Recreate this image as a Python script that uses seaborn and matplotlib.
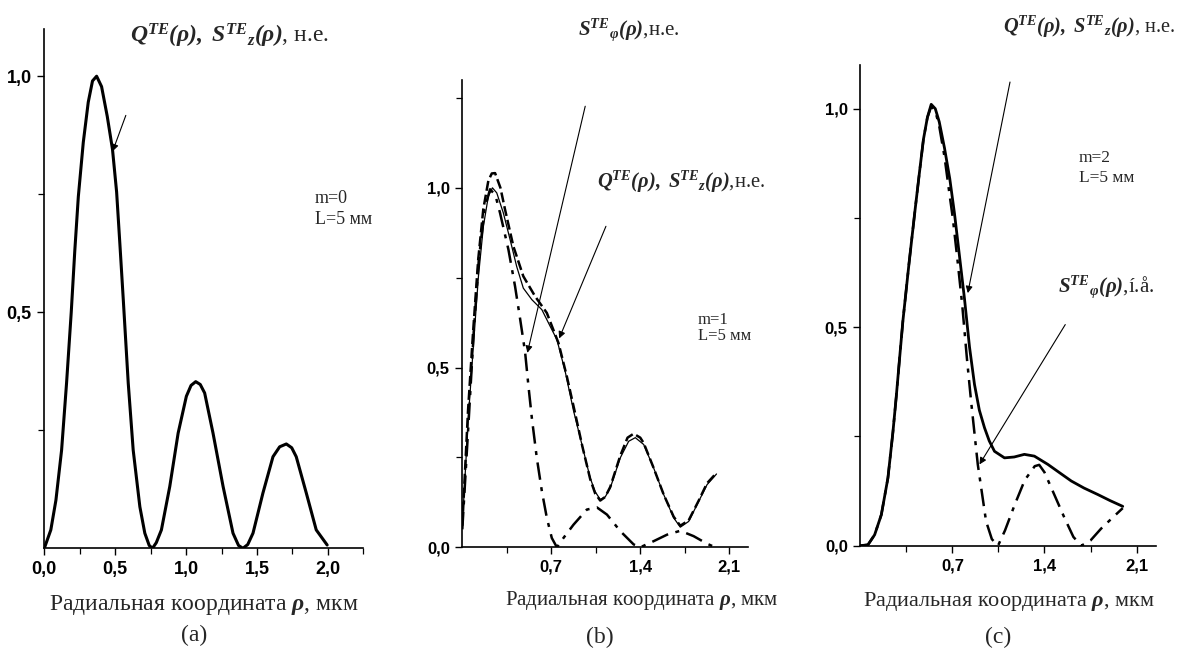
import matplotlib
matplotlib.use("Agg")
import matplotlib.pyplot as plt
import seaborn as sns

# ---------------- data ----------------
# panel (a): m=0
a_rho = [0.00, 0.046, 0.082, 0.122, 0.157, 0.19, 0.215, 0.24, 0.275, 0.31, 0.34, 0.369, 0.404,
         0.444, 0.481, 0.51, 0.533, 0.557, 0.592, 0.627, 0.674, 0.709, 0.74, 0.763, 0.79, 0.826,
         0.885, 0.944, 1.002, 1.035, 1.068, 1.10, 1.131, 1.19, 1.261, 1.331, 1.37, 1.401, 1.435,
         1.472, 1.542, 1.613, 1.66, 1.707, 1.745, 1.777, 1.848, 1.918, 1.995]
a_q = [0.00, 0.039, 0.102, 0.208, 0.35, 0.50, 0.63, 0.745, 0.86, 0.945, 0.99, 1.00, 0.978,
       0.915, 0.845, 0.755, 0.645, 0.527, 0.35, 0.208, 0.088, 0.032, 0.006, 0.00, 0.012, 0.039,
       0.131, 0.244, 0.322, 0.345, 0.353, 0.347, 0.329, 0.244, 0.131, 0.032, 0.006, 0.00, 0.008,
       0.032, 0.117, 0.194, 0.215, 0.221, 0.213, 0.194, 0.117, 0.039, 0.007]

# panel (b): m=1
b_rho_q = [0.0, 0.048, 0.087, 0.127, 0.166, 0.205, 0.237, 0.271, 0.323, 0.376, 0.428, 0.48,
           0.547, 0.626, 0.691, 0.744, 0.809, 0.875, 0.941, 1.006, 1.045, 1.085, 1.124, 1.164,
           1.243, 1.309, 1.361, 1.427, 1.505, 1.584, 1.663, 1.715, 1.781, 1.86, 1.925, 2.0]
b_q = [0.06, 0.364, 0.559, 0.754, 0.893, 0.977, 1.0, 0.986, 0.93, 0.856, 0.781, 0.721,
       0.689, 0.661, 0.615, 0.578, 0.49, 0.38, 0.286, 0.193, 0.155, 0.133, 0.14, 0.165,
       0.249, 0.295, 0.305, 0.286, 0.221, 0.147, 0.082, 0.056, 0.072, 0.128, 0.174, 0.204]
b_rho_sz = [0.0, 0.045, 0.085, 0.125, 0.165, 0.205, 0.232, 0.258, 0.30, 0.336, 0.402, 0.48,
            0.573, 0.665, 0.757, 0.822, 0.883, 0.945, 1.006, 1.045, 1.085, 1.124, 1.164, 1.243,
            1.30, 1.348, 1.40, 1.427, 1.505, 1.584, 1.663, 1.715, 1.781, 1.86, 1.925, 2.0]
b_sz = [0.06, 0.38, 0.60, 0.80, 0.94, 1.02, 1.04, 1.041, 1.0, 0.94, 0.837, 0.754,
        0.698, 0.652, 0.568, 0.476, 0.38, 0.28, 0.19, 0.15, 0.13, 0.14, 0.168, 0.255,
        0.305, 0.316, 0.305, 0.29, 0.221, 0.147, 0.085, 0.06, 0.075, 0.13, 0.178, 0.207]
b_rho_sphi = [0.0, 0.052, 0.09, 0.13, 0.175, 0.218, 0.26, 0.297, 0.363, 0.415, 0.455, 0.494,
              0.52, 0.547, 0.586, 0.626, 0.665, 0.704, 0.744, 0.796, 0.875, 0.98, 1.059, 1.138,
              1.243, 1.348, 1.40, 1.505, 1.61, 1.715, 1.82, 1.925, 1.99]
b_sphi = [0.05, 0.364, 0.60, 0.80, 0.94, 0.996, 0.98, 0.93, 0.828, 0.726, 0.635, 0.543,
          0.45, 0.36, 0.249, 0.156, 0.082, 0.026, 0.0, 0.026, 0.063, 0.105, 0.111, 0.091,
          0.045, 0.008, 0.0, 0.017, 0.035, 0.046, 0.031, 0.01, 0.0]

# panel (c): m=2
c_rho_q = [0.0, 0.058, 0.109, 0.16, 0.21, 0.248, 0.273, 0.299, 0.324, 0.37, 0.415, 0.45, 0.48,
           0.51, 0.539, 0.57, 0.60, 0.64, 0.68, 0.716, 0.755, 0.792, 0.83, 0.868, 0.905, 0.944,
           0.98, 1.02, 1.096, 1.17, 1.247, 1.323, 1.426, 1.51, 1.604, 1.70, 1.806, 1.90, 1.995]
c_q = [0.0, 0.002, 0.025, 0.071, 0.155, 0.26, 0.34, 0.43, 0.515, 0.645, 0.765, 0.855, 0.93,
       0.98, 1.01, 1.0, 0.97, 0.91, 0.84, 0.76, 0.66, 0.565, 0.455, 0.369, 0.31, 0.27,
       0.24, 0.216, 0.201, 0.203, 0.209, 0.205, 0.186, 0.168, 0.148, 0.132, 0.117, 0.103, 0.09]
c_rho_sphi = [0.0, 0.058, 0.109, 0.16, 0.21, 0.248, 0.273, 0.299, 0.324, 0.37, 0.415, 0.45,
              0.48, 0.51, 0.539, 0.57, 0.60, 0.64, 0.68, 0.703, 0.74, 0.775, 0.81, 0.842, 0.893,
              0.956, 1.0, 1.047, 1.10, 1.174, 1.25, 1.326, 1.36, 1.40, 1.47, 1.553, 1.62, 1.68,
              1.75, 1.83, 1.91, 1.995]
c_sphi = [0.0, 0.002, 0.025, 0.071, 0.155, 0.26, 0.34, 0.43, 0.515, 0.645, 0.765, 0.855,
          0.93, 0.98, 1.005, 0.995, 0.96, 0.89, 0.80, 0.75, 0.65, 0.55, 0.43, 0.331, 0.186,
          0.056, 0.015, 0.0, 0.035, 0.094, 0.15, 0.182, 0.185, 0.168, 0.12, 0.063, 0.02, 0.0,
          0.012, 0.039, 0.062, 0.086]

# ticks
a_xticks = [0.0, 0.5, 1.0, 1.5, 2.0]
a_xticklabels = ["0,0", "0,5", "1,0", "1,5", "2,0"]
a_xminor = [0.25, 0.75, 1.25, 1.75, 2.25]
a_yticks = [0.5, 1.0]
a_yticklabels = ["0,5", "1,0"]
a_yminor = [0.25, 0.75]
bc_xticks = [0.7, 1.4, 2.1]
bc_xticklabels = ["0,7", "1,4", "2,1"]
bc_xminor = [0.35, 1.05, 1.75]
bc_yticks = [0.0, 0.5, 1.0]
bc_yticklabels = ["0,0", "0,5", "1,0"]
b_yminor = [0.25, 0.75, 1.25]
c_yminor = [0.25, 0.75]

# ---------------- style ----------------
sns.set_theme(style="ticks")
plt.rcParams["font.family"] = ["Liberation Serif", "DejaVu Serif"]
plt.rcParams["mathtext.fontset"] = "custom"
plt.rcParams["mathtext.rm"] = "Liberation Serif"
plt.rcParams["mathtext.it"] = "Liberation Serif:italic"
plt.rcParams["mathtext.bf"] = "Liberation Serif:bold"
plt.rcParams["mathtext.bfit"] = "Liberation Serif:italic:bold"
plt.rcParams["axes.edgecolor"] = "black"
plt.rcParams["xtick.color"] = "black"
plt.rcParams["ytick.color"] = "black"

W, H = 1178, 648
fig = plt.figure(figsize=(W / 100, H / 100), dpi=100)
fig.patch.set_facecolor("white")


def px_axes(l, r, t, b):
    return fig.add_axes([l / W, 1 - b / H, (r - l) / W, (b - t) / H])


def fx(x):
    return x / W


def fy(y):
    return 1 - y / H


ax_a = px_axes(44.3, 363.3, 29, 548.3)
ax_b = px_axes(462.3, 748.3, 80, 547.3)
ax_c = px_axes(860.3, 1156.3, 65, 545.7)

dashdot = (0, (7, 3, 1.6, 3))
dashed = (0, (4, 1.6))

sns.lineplot(x=a_rho, y=a_q, ax=ax_a, color="black", linewidth=2.2, sort=False, estimator=None)

sns.lineplot(x=b_rho_q, y=b_q, ax=ax_b, color="black", linewidth=0.9, sort=False, estimator=None)
sns.lineplot(x=b_rho_sz, y=b_sz, ax=ax_b, color="black", linewidth=1.8, linestyle=dashed,
             sort=False, estimator=None)
sns.lineplot(x=b_rho_sphi, y=b_sphi, ax=ax_b, color="black", linewidth=1.8, linestyle=dashdot,
             sort=False, estimator=None)

sns.lineplot(x=c_rho_q, y=c_q, ax=ax_c, color="black", linewidth=2.0, sort=False, estimator=None)
sns.lineplot(x=c_rho_sphi, y=c_sphi, ax=ax_c, color="black", linewidth=1.8, linestyle=dashdot,
             sort=False, estimator=None)

tick_font = dict(fontfamily="Liberation Sans", fontweight="bold")

for ax, ymax, fs in [(ax_a, 1.10, 13), (ax_b, 1.30, 12), (ax_c, 1.10, 12)]:
    ax.set_xlim(0, 2.25)
    ax.set_ylim(0, ymax)
    ax.set_facecolor("white")
    ax.grid(False)
    sns.despine(ax=ax)
    for s in ("left", "bottom"):
        ax.spines[s].set_linewidth(1.2)
    ax.tick_params(which="major", direction="out", length=5, width=1.0, labelsize=fs, pad=4)
    ax.tick_params(which="minor", direction="out", length=4, width=0.9)
    ax.set_xlabel("")
    ax.set_ylabel("")

ax_a.set_xticks(a_xticks)
ax_a.set_xticklabels(a_xticklabels, **tick_font)
ax_a.set_xticks(a_xminor, minor=True)
ax_a.set_yticks(a_yticks)
ax_a.set_yticklabels(a_yticklabels, **tick_font)
ax_a.set_yticks(a_yminor, minor=True)

for ax, yminor in [(ax_b, b_yminor), (ax_c, c_yminor)]:
    ax.set_xticks(bc_xticks)
    ax.set_xticklabels(bc_xticklabels, **tick_font)
    ax.set_xticks(bc_xminor, minor=True)
    ax.set_yticks(bc_yticks)
    ax.set_yticklabels(bc_yticklabels, **tick_font)
    ax.set_yticks(yminor, minor=True)

# ---------------- texts ----------------
qs_z = r"$\mathbfit{Q}^{\mathbfit{TE}}\mathbfit{(ρ),\ S}^{\mathbfit{TE}}{}_{\mathbfit{z}}\mathbfit{(ρ)}$"
s_phi = r"$\mathbfit{S}^{\mathbfit{TE}}{}_{\mathbfit{φ}}\mathbfit{(ρ)}$"
xlab = r"Радиальная координата $\mathbfit{ρ}$, мкм"

fig.text(fx(130), fy(43), qs_z + ", н.е.", fontsize=17, ha="left", va="baseline")
fig.text(fx(578), fy(35), s_phi + ",н.е.", fontsize=15, ha="left", va="baseline")
fig.text(fx(597), fy(188), qs_z + ",н.е.", fontsize=14.8, ha="left", va="baseline")
fig.text(fx(1003), fy(33), qs_z + ", н.е.", fontsize=14.7, ha="left", va="baseline")
fig.text(fx(1058), fy(292), s_phi + ",í.å.", fontsize=15, ha="left", va="baseline")

fig.text(fx(315), fy(203), "m=0", fontsize=13, ha="left", va="baseline")
fig.text(fx(315), fy(224), "L=5 мм", fontsize=13, ha="left", va="baseline")
fig.text(fx(698), fy(324), "m=1", fontsize=12, ha="left", va="baseline")
fig.text(fx(698), fy(340), "L=5 мм", fontsize=12, ha="left", va="baseline")
fig.text(fx(1078.7), fy(161.7), "m=2", fontsize=12.5, ha="left", va="baseline")
fig.text(fx(1078.7), fy(181.7), "L=5 мм", fontsize=12.5, ha="left", va="baseline")

fig.text(fx(204), fy(610), xlab, fontsize=17, ha="center", va="baseline")
fig.text(fx(642), fy(605), xlab, fontsize=15, ha="center", va="baseline")
fig.text(fx(1008.5), fy(606), xlab, fontsize=16, ha="center", va="baseline")

fig.text(fx(194), fy(641), "(a)", fontsize=17, ha="center", va="baseline")
fig.text(fx(600), fy(643), "(b)", fontsize=17, ha="center", va="baseline")
fig.text(fx(998), fy(643), "(c)", fontsize=17, ha="center", va="baseline")

# ---------------- arrows ----------------
arrow = dict(arrowstyle="-|>", lw=0.8, color="black", mutation_scale=10, shrinkA=0, shrinkB=0)
ax_a.annotate("", xy=(0.482, 0.841), xytext=(0.575, 0.917), arrowprops=arrow)
ax_b.annotate("", xy=(0.512, 0.541), xytext=(0.967, 1.227), arrowprops=arrow)
ax_b.annotate("", xy=(0.762, 0.581), xytext=(1.13, 0.893), arrowprops=arrow)
ax_c.annotate("", xy=(0.817, 0.578), xytext=(1.138, 1.061), arrowprops=arrow)
ax_c.annotate("", xy=(0.906, 0.186), xytext=(1.558, 0.506), arrowprops=arrow)

fig.savefig("out.png", dpi=100, facecolor="white")
